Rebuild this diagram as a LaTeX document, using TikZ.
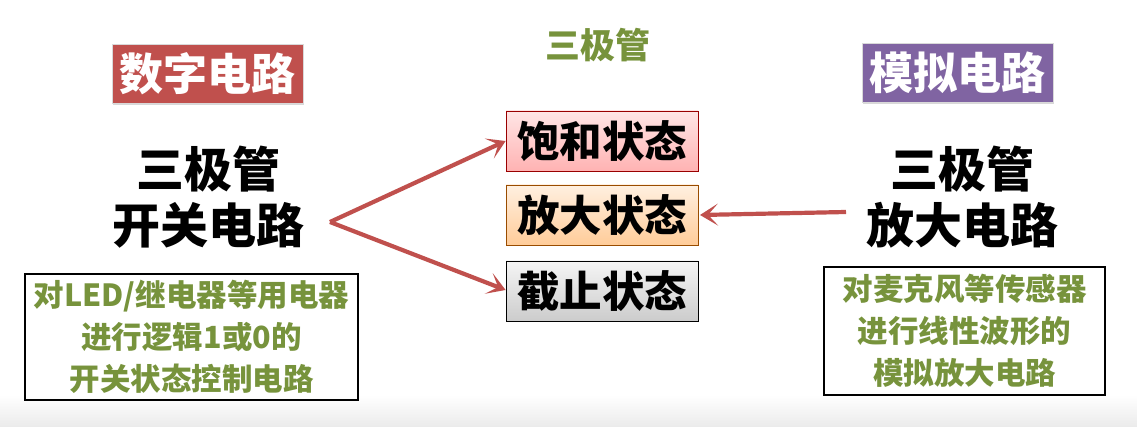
\documentclass[tikz,border=0pt]{standalone}
\usepackage{fontspec}
\newfontfamily\cjk{Noto Sans CJK SC}
\usetikzlibrary{arrows.meta,shadows}
\definecolor{rd}{HTML}{C0504D}
\definecolor{pu}{HTML}{8064A2}
\definecolor{gn}{HTML}{77933C}
\tikzset{
  tag/.style={draw=white!85!black,line width=0.8pt,minimum width=191pt,minimum height=59pt,inner sep=0pt,
    font=\cjk\bfseries\fontsize{44}{48}\selectfont,text=white,drop shadow={opacity=0.3,shadow xshift=1pt,shadow yshift=-2pt}},
  state/.style={draw=#1!60!black,line width=0.8pt,minimum width=192pt,minimum height=60pt,inner sep=0pt,
    font=\cjk\bfseries\fontsize{42.5}{48}\selectfont,text=black},
  big/.style={align=center,font=\cjk\bfseries\fontsize{48}{56}\selectfont,text=black},
  note/.style={draw=black,line width=1.3pt,align=center,inner sep=0pt,
    font=\cjk\bfseries\fontsize{30.5}{42}\selectfont,text=gn},
  conn/.style={draw=rd,line width=4.2pt,-{Stealth[length=18pt,width=22pt,inset=10pt]}}
}
\begin{document}
\begin{tikzpicture}[x=1pt,y=-1pt]
\useasboundingbox (0,0) rectangle (1137,427);
\fill[white] (0,0) rectangle (1137,427);
\shade[top color=white,bottom color=black!8] (0,395) rectangle (1137,427);
\node[tag,fill=rd] (dig) at (207.5,73.5) {数字电路};
\node[tag,fill=pu] (ana) at (957.5,73) {模拟电路};
\node[font=\cjk\bfseries\fontsize{35}{40}\selectfont,text=gn] (title) at (598,45) {三极管};
\node[big] (sw) at (208,197) {三极管\\开关电路};
\node[big] (amp) at (962,197) {三极管\\放大电路};
\node[state=red,top color=red!10,bottom color=red!30] (sat) at (602,141) {饱和状态};
\node[state=orange,top color=orange!12,bottom color=orange!40] (act) at (602,215) {放大状态};
\node[state=black,top color=black!4,bottom color=black!20] (cut) at (602,291) {截止状态};
\node[note,minimum width=333pt,minimum height=126pt] (nl) at (191.5,337) {对LED/继电器等用电器\\进行逻辑1或0的\\开关状态控制电路};
\node[note,minimum width=281pt,minimum height=128pt] (nr) at (964.5,331) {对麦克风等传感器\\进行线性波形的\\模拟放大电路};
\coordinate (src) at (330,222);
\coordinate (rsrc) at (846,212);
\draw[conn] (src) -- (sat.west);
\draw[conn] (src) -- ([yshift=1pt]cut.west);
\draw[conn] (rsrc) -- (act.east -| 700,0) ;
\end{tikzpicture}
\end{document}
